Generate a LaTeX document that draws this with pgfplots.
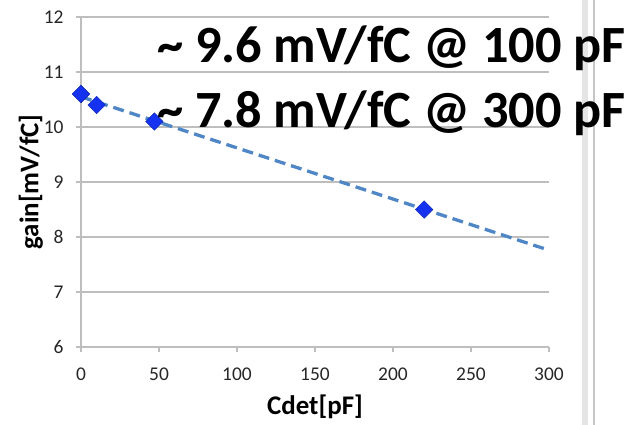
\documentclass[border=0pt]{standalone}
\usepackage{fontspec}
\setmainfont{Carlito}
\usepackage{pgfplots}
\pgfplotsset{compat=1.18}
\definecolor{gridgray}{RGB}{190,190,190}
\definecolor{trendblue}{RGB}{79,134,198}
\definecolor{markblue}{RGB}{20,50,240}
\begin{document}
\begin{tikzpicture}
\begin{axis}[
  name=ax, scale only axis, width=468bp, height=330bp,
  xmin=0, xmax=300, ymin=6, ymax=12,
  xtick={0,50,...,300}, ytick={6,7,...,12},
  axis x line*=bottom, axis y line*=left,
  axis line style={gridgray, line width=1.2pt, -},
  ymajorgrids, major grid style={gridgray, line width=1.2pt},
  tick style={gridgray, line width=1.2pt},
  tick align=outside, major tick length=5bp,
  tick label style={font=\fontsize{19.5}{22}\selectfont, text=black!85},
  xticklabel style={yshift=-12bp},
  yticklabel style={xshift=-9bp},
  /pgf/number format/assume math mode=true,
  xlabel={\bfseries Cdet[pF]}, ylabel={\bfseries gain[mV/fC]},
  label style={font=\fontsize{27}{30}\selectfont},
  xlabel style={at={(axis description cs:0.5,-0.206)}, anchor=base},
  ylabel style={at={(axis description cs:-0.107,0.5)}, anchor=center},
  clip=false,
]
\addplot[trendblue, line width=3.3bp, dash pattern=on 11bp off 6bp] coordinates {(0,10.55) (300,7.76)};
\addplot[only marks, mark=square*, mark size=6.2bp, mark options={rotate=45, fill=markblue, draw=markblue!70!black}] coordinates {(0,10.6) (10,10.4) (47,10.1) (220,8.5)};
\end{axis}
\path[use as bounding box] ([shift={(-81bp,-78bp)}]ax.south west) rectangle ([shift={(556bp,347bp)}]ax.south west);
\draw[gray!20, line width=6bp] ([shift={(504bp,-78bp)}]ax.south west) -- ([shift={(504bp,347bp)}]ax.south west);
\draw[gray!45, line width=1.5bp] ([shift={(513bp,-78bp)}]ax.south west) -- ([shift={(513bp,347bp)}]ax.south west);
\node[anchor=base west, font=\fontsize{52.5}{60}\selectfont\bfseries, inner sep=0pt] at ([shift={(76bp,284bp)}]ax.south west) {\textasciitilde{} 9.6 mV/fC @ 100 pF};
\node[anchor=base west, font=\fontsize{52.5}{60}\selectfont\bfseries, inner sep=0pt] at ([shift={(76bp,219bp)}]ax.south west) {\textasciitilde{} 7.8 mV/fC @ 300 pF};
\end{tikzpicture}
\end{document}
